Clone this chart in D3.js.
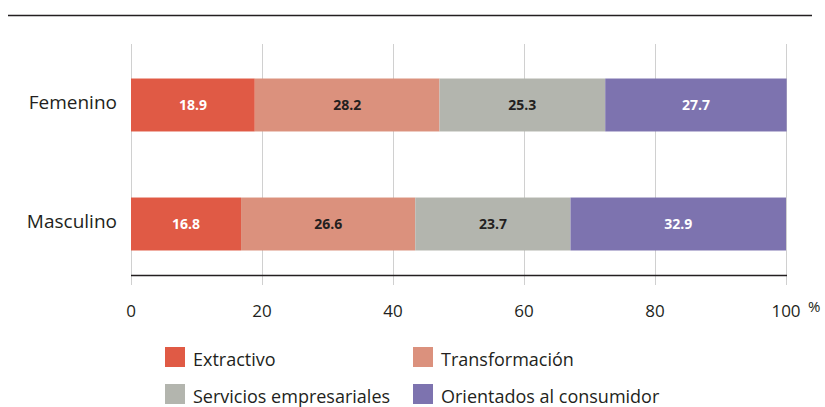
<!DOCTYPE html>
<html><head><meta charset="utf-8">
<script src="https://cdn.jsdelivr.net/npm/d3@7"></script>
<style>body{margin:0;background:#fff}svg{display:block;font-family:"Open Sans",sans-serif}</style>
</head><body>
<svg id="c" width="825" height="407"></svg>
<script>
const categories = ["Femenino", "Masculino"];
const seriesNames = ["Extractivo", "Transformación", "Servicios empresariales", "Orientados al consumidor"];
const extractivo = [18.9, 16.8];
const transformacion = [28.2, 26.6];
const servicios = [25.3, 23.7];
const consumidor = [27.7, 32.9];
const xTicks = [0, 20, 40, 60, 80, 100];
const colors = ["#E05A45", "#DB917D", "#B3B5AE", "#7D73AF"];
const labelColors = ["#ffffff", "#231f20", "#231f20", "#ffffff"];

const svg = d3.select("#c");
const x = d3.scaleLinear().domain([0, 100]).range([131, 786]);
const y = d3.scaleBand().domain(categories).range([44, 285]).paddingInner(0.555).paddingOuter(0.29);

svg.append("line").attr("x1", 8).attr("x2", 812).attr("y1", 15.5).attr("y2", 15.5)
  .attr("stroke", "#231f20").attr("stroke-width", 1.3);

svg.append("g").selectAll("line").data(xTicks).join("line")
  .attr("x1", d => x(d) + 0.5).attr("x2", d => x(d) + 0.5)
  .attr("y1", 44).attr("y2", 285).attr("stroke", "#d0d0d0").attr("stroke-width", 1);

const stackData = categories.map((c, i) => ({
  cat: c,
  [seriesNames[0]]: extractivo[i],
  [seriesNames[1]]: transformacion[i],
  [seriesNames[2]]: servicios[i],
  [seriesNames[3]]: consumidor[i]
}));
const stack = d3.stack().keys(seriesNames)(stackData);

stack.forEach((layer, j) => {
  const g = svg.append("g");
  g.selectAll("rect").data(layer).join("rect")
    .attr("x", d => x(d[0])).attr("width", d => x(d[1]) - x(d[0]))
    .attr("y", d => y(d.data.cat)).attr("height", y.bandwidth())
    .attr("fill", colors[j]);
  g.selectAll("text").data(layer).join("text")
    .attr("x", d => (x(d[0]) + x(d[1])) / 2)
    .attr("y", d => y(d.data.cat) + y.bandwidth() / 2 + 5)
    .attr("text-anchor", "middle").attr("font-size", 14).attr("font-weight", "bold")
    .attr("fill", labelColors[j])
    .text(d => d.data[seriesNames[j]].toFixed(1));
});

svg.append("line").attr("x1", 131).attr("x2", 787).attr("y1", 275.5).attr("y2", 275.5)
  .attr("stroke", "#231f20").attr("stroke-width", 1.3);

svg.append("g").selectAll("text").data(categories).join("text")
  .attr("x", 117).attr("y", d => y(d) + y.bandwidth() / 2 + 4)
  .attr("text-anchor", "end").attr("font-size", 19).attr("fill", "#231f20").text(d => d);

svg.append("g").selectAll("text").data(xTicks).join("text")
  .attr("x", d => x(d)).attr("y", 317).attr("text-anchor", "middle")
  .attr("font-size", 17).attr("fill", "#231f20").text(d => d);
svg.append("text").attr("x", 808).attr("y", 312).attr("font-size", 15).attr("fill", "#231f20").text("%");

const legPos = [[165, 347], [413, 347], [165, 384], [413, 384]];
seriesNames.forEach((s, j) => {
  svg.append("rect").attr("x", legPos[j][0]).attr("y", legPos[j][1]).attr("width", 20).attr("height", 20).attr("fill", colors[j]);
  svg.append("text").attr("x", legPos[j][0] + 28).attr("y", legPos[j][1] + 19).attr("font-size", 18).attr("fill", "#231f20").text(s);
});
</script>
</body></html>
